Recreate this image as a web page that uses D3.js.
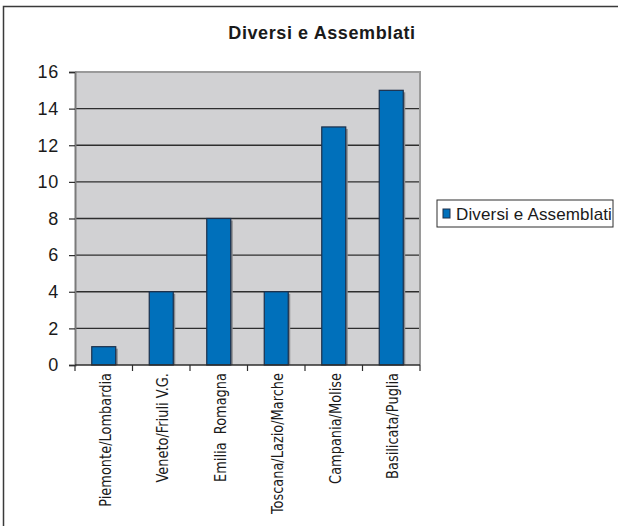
<!DOCTYPE html>
<html>
<head>
<meta charset="utf-8">
<script src="https://cdn.jsdelivr.net/npm/d3@7"></script>
<style>
  html, body { margin: 0; padding: 0; background: #fff; }
  svg { display: block; }
</style>
</head>
<body>
<script>
// Chart data
const categories = ["Piemonte/Lombardia", "Veneto/Friuli V.G.", "Emilia  Romagna", "Toscana/Lazio/Marche", "Campania/Molise", "Basilicata/Puglia"];
const values = [1, 4, 8, 4, 13, 15];
const seriesName = "Diversi e Assemblati";
const chartTitle = "Diversi e Assemblati";
const yTicks = [0, 2, 4, 6, 8, 10, 12, 14, 16];

const W = 618, H = 526;
const plot = { left: 75, right: 420, top: 72, bottom: 365 };

const svg = d3.select("body").append("svg")
  .attr("width", W).attr("height", H);

// outer frame (left and top edges)
svg.append("path")
  .attr("d", `M3.5,${H} L3.5,6.5 L${W},6.5`)
  .attr("fill", "none").attr("stroke", "#3a3a3a").attr("stroke-width", 1.5);

const x = d3.scaleBand().domain(categories).range([plot.left, plot.right]).paddingInner(0).paddingOuter(0);
const y = d3.scaleLinear().domain([0, 16]).range([plot.bottom, plot.top]);

// plot background
svg.append("rect")
  .attr("x", plot.left).attr("y", plot.top)
  .attr("width", plot.right - plot.left).attr("height", plot.bottom - plot.top)
  .attr("fill", "#d1d1d3");

// gridlines
svg.append("g").selectAll("line")
  .data(yTicks.filter(t => t > 0 && t < 16))
  .join("line")
  .attr("x1", plot.left).attr("x2", plot.right)
  .attr("y1", d => y(d)).attr("y2", d => y(d))
  .attr("stroke", "#2e2e2e").attr("stroke-width", 1.3);

// plot border top & right
svg.append("path")
  .attr("d", `M${plot.left},${y(16)} L${plot.right},${y(16)} L${plot.right},${plot.bottom}`)
  .attr("fill", "none").attr("stroke", "#9a9a9a").attr("stroke-width", 2);

// bars
const barW = 24;
const bars = svg.append("g");
bars.selectAll("rect.shadow")
  .data(values)
  .join("rect")
  .attr("class", "shadow")
  .attr("x", (d, i) => x(categories[i]) + x.bandwidth() / 2 - barW / 2 + 2)
  .attr("y", d => y(d) + 2)
  .attr("width", barW)
  .attr("height", d => y(0) - y(d) - 2)
  .attr("fill", "#8a8a8c");
bars.selectAll("rect.bar")
  .data(values)
  .join("rect")
  .attr("class", "bar")
  .attr("x", (d, i) => x(categories[i]) + x.bandwidth() / 2 - barW / 2)
  .attr("y", d => y(d))
  .attr("width", barW)
  .attr("height", d => y(0) - y(d))
  .attr("fill", "#0070bb")
  .attr("stroke", "#1c2f4a").attr("stroke-width", 1.2);

// y axis
const yAxis = svg.append("g")
  .attr("transform", `translate(${plot.left},0)`)
  .call(d3.axisLeft(y).tickValues(yTicks).tickSize(6).tickPadding(10).tickFormat(d3.format("d")));
yAxis.select(".domain").attr("stroke", "#7a7a7a").attr("stroke-width", 2);
yAxis.selectAll(".tick line").attr("stroke", "#2e2e2e").attr("stroke-width", 1.2);
yAxis.selectAll(".tick text")
  .attr("font-family", "Liberation Sans, Arial, sans-serif")
  .attr("font-size", 18).attr("letter-spacing", 0.8).attr("fill", "#1a1a1a");

// x axis
const xAxis = svg.append("g")
  .attr("transform", `translate(0,${plot.bottom})`);
xAxis.append("line")
  .attr("x1", plot.left).attr("x2", plot.right)
  .attr("y1", 0).attr("y2", 0)
  .attr("stroke", "#2e2e2e").attr("stroke-width", 1.5);
const bounds = categories.map(c => x(c)).concat([plot.right]);
xAxis.selectAll("line.tick")
  .data(bounds)
  .join("line")
  .attr("class", "tick")
  .attr("x1", d => d).attr("x2", d => d)
  .attr("y1", 0).attr("y2", 6)
  .attr("stroke", "#2e2e2e").attr("stroke-width", 1.2);
xAxis.selectAll("text")
  .data(categories)
  .join("text")
  .attr("transform", d => `translate(${x(d) + x.bandwidth() / 2 + 7},8) rotate(-90) scale(0.9,1)`)
  .attr("text-anchor", "end")
  .attr("font-family", "DejaVu Sans Condensed, Liberation Sans Narrow, Arial Narrow, sans-serif")
  .attr("font-size", 16)
  .attr("fill", "#1a1a1a")
  .attr("xml:space", "preserve")
  .style("white-space", "pre")
  .text(d => d);

// title
svg.append("text")
  .attr("x", 322).attr("y", 39)
  .attr("text-anchor", "middle")
  .attr("font-family", "Liberation Sans, Arial, sans-serif")
  .attr("font-weight", "bold")
  .attr("font-size", 18)
  .attr("letter-spacing", 0.6)
  .attr("fill", "#1a1a1a")
  .text(chartTitle);

// legend
const lg = svg.append("g").attr("transform", "translate(437,200)");
lg.append("rect")
  .attr("x", 0).attr("y", 0).attr("width", 176).attr("height", 27)
  .attr("fill", "#fff").attr("stroke", "#2e2e2e").attr("stroke-width", 1);
lg.append("rect")
  .attr("x", 6).attr("y", 9).attr("width", 7).attr("height", 9)
  .attr("fill", "#0070bb").attr("stroke", "#1c2f4a").attr("stroke-width", 1);
lg.append("text")
  .attr("x", 19).attr("y", 20)
  .attr("font-family", "Liberation Sans, Arial, sans-serif")
  .attr("font-size", 17)
  .attr("letter-spacing", 0.15)
  .attr("fill", "#1a1a1a")
  .text(seriesName);
</script>
</body>
</html>
